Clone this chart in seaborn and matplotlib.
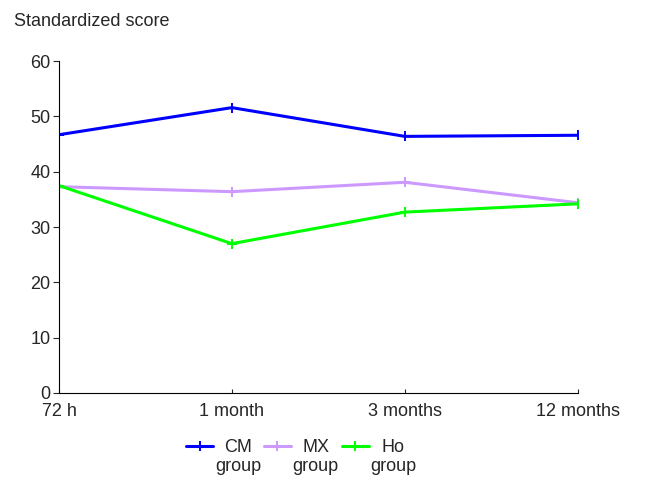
import pandas as pd
import numpy as np
import matplotlib
matplotlib.use("Agg")
import matplotlib.pyplot as plt
import seaborn as sns

# du lieu doc tu hinh
time_points = ["72 h", "1 month", "3 months", "12 months"]
cm_group = [46.7, 51.6, 46.4, 46.6]
mx_group = [37.3, 36.4, 38.1, 34.4]
ho_group = [37.5, 27.0, 32.7, 34.2]
group_names = ["CM\ngroup", "MX\ngroup", "Ho\ngroup"]
colors = ["#0000ff", "#cc99ff", "#00ff00"]

data = pd.DataFrame({
    "time": time_points * 3,
    "score": cm_group + mx_group + ho_group,
    "group": np.repeat(group_names, len(time_points)),
})

sns.set_style("white")
plt.rcParams["font.family"] = ["Liberation Sans", "DejaVu Sans"]

fig = plt.figure(figsize=(6.55, 4.78), dpi=100)
ax = fig.add_axes([0.090, 0.178, 0.792, 0.694])

sns.lineplot(data=data, x="time", y="score", hue="group", palette=colors,
             marker="+", markersize=6.5, markeredgewidth=1.4, linewidth=2.2,
             sort=False, ax=ax)
# dau + cung mau voi duong
for line in ax.get_lines():
    line.set_markeredgecolor(line.get_color())

ax.set_xlim(0, 3)
ax.set_ylim(0, 60)
ax.set_yticks(range(0, 61, 10))
ax.set_xlabel("")
ax.set_ylabel("")
for s in ["top", "right"]:
    ax.spines[s].set_visible(False)
for s in ["left", "bottom"]:
    ax.spines[s].set_color("black")
    ax.spines[s].set_linewidth(0.8)
ax.tick_params(axis="y", direction="out", length=4, width=0.8, labelsize=13, pad=2, left=True)
ax.tick_params(axis="x", direction="in", length=3, width=0.8, labelsize=13, pad=7, bottom=True)

fig.text(0.021, 0.954, "Standardized score", fontsize=13, va="center", ha="left")

leg = ax.legend(loc="center", bbox_to_anchor=(0.46, 0.044), bbox_transform=fig.transFigure,
                ncol=3, frameon=False, fontsize=13, handlelength=1.5, handletextpad=0.1,
                columnspacing=0.15, borderpad=0)
for t in leg.get_texts():
    t.set_multialignment("center")
# dua ky hieu len ngang dong dau
for h in leg.legend_handles:
    h.set_ydata(np.asarray(h.get_ydata()) + 7.8)
    h.set_markeredgecolor(h.get_color())
    h.set_linewidth(2.2)

fig.savefig("out.png", dpi=100)
